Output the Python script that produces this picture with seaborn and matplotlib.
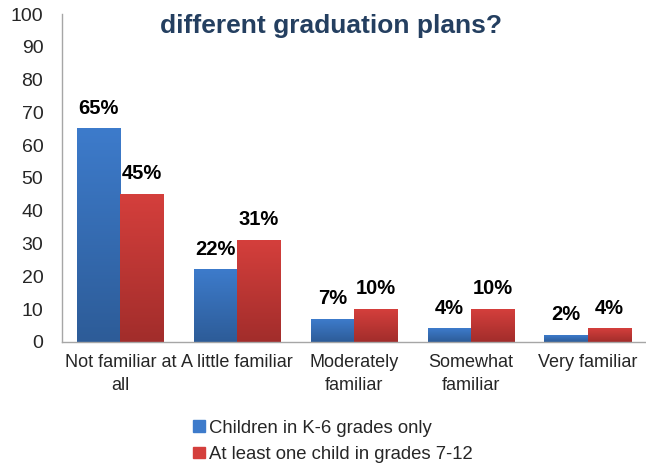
import pandas as pd
import numpy as np
import matplotlib.pyplot as plt
import seaborn as sns
from matplotlib.colors import LinearSegmentedColormap

# data
categories = ["Not familiar at\nall", "A little familiar", "Moderately\nfamiliar",
              "Somewhat\nfamiliar", "Very familiar"]
series_names = ["Children in K-6 grades only", "At least one child in grades 7-12"]
k6_values = [65, 22, 7, 4, 2]
g712_values = [45, 31, 10, 10, 4]
y_ticks = list(range(0, 101, 10))
title = "different graduation plans?"

blue_top, blue_bottom = "#3D7BCB", "#2D5C98"
red_top, red_bottom = "#D43F3C", "#A22D2B"

df = pd.DataFrame({
    "category": categories * 2,
    "group": [series_names[0]] * 5 + [series_names[1]] * 5,
    "value": k6_values + g712_values,
})

sns.set_theme(style="white")
plt.rcParams['font.family'] = ['Liberation Sans', 'DejaVu Sans']

fig = plt.figure(figsize=(6.46, 4.67), dpi=100)
ax = fig.add_axes([0.096, 0.268, 0.904, 0.702])

sns.barplot(data=df, x="category", y="value", hue="group", order=categories,
            hue_order=series_names, palette=[blue_top, red_top], width=0.74,
            saturation=1, ax=ax, legend=False)

# gradient fill for each bar, plus value label
grads = {blue_top: (blue_top, blue_bottom), red_top: (red_top, red_bottom)}
bars = [p for p in ax.patches if p.get_height() > 0]
for p in bars:
    x0, w, h = p.get_x(), p.get_width(), p.get_height()
    fc = p.get_facecolor()
    key = blue_top if fc[2] > fc[0] else red_top
    cmap = LinearSegmentedColormap.from_list("g", [grads[key][1], grads[key][0]])
    grad = np.linspace(0, 1, 100).reshape(-1, 1)
    ax.imshow(grad, extent=[x0, x0 + w, 0, h], origin="lower", aspect="auto",
              cmap=cmap, zorder=2)
    p.set_visible(False)
    ax.text(x0 + w / 2, h + 4.6, f"{h:.0f}%", ha="center", va="baseline",
            fontsize=14.5, fontweight="bold", color="black")

ax.set_xlim(-0.5, 4.5)
ax.set_ylim(0, 100)
ax.set_yticks(y_ticks)
ax.tick_params(axis="y", labelsize=14, pad=13.5, length=0)
ax.tick_params(axis="x", labelsize=13, pad=9, length=0)
for lab in ax.get_xticklabels():
    lab.set_multialignment("center")
    lab.set_linespacing(1.4)
ax.set_xlabel("")
ax.set_ylabel("")

for s in ["top", "right"]:
    ax.spines[s].set_visible(False)
for s in ["left", "bottom"]:
    ax.spines[s].set_color("#A6A6A6")
    ax.spines[s].set_linewidth(1.0)

fig.text(0.512, 0.929, title, ha="center", va="baseline", fontsize=19,
         fontweight="bold", color="#243F60")

handles = [plt.Rectangle((0, 0), 1, 1, color=blue_top),
           plt.Rectangle((0, 0), 1, 1, color=red_top)]
fig.legend(handles, series_names, loc="upper left", bbox_to_anchor=(0.288, 0.117),
           frameon=False, fontsize=13.3, handlelength=0.6, handleheight=0.6,
           handletextpad=0.25, labelspacing=0.5, borderaxespad=0)

fig.savefig("out.png", dpi=100)
